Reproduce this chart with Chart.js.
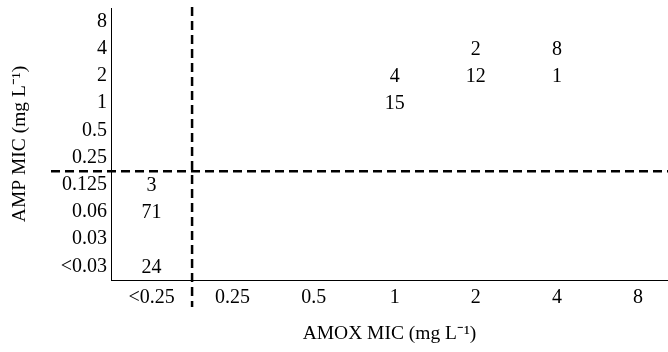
<!DOCTYPE html>
<html>
<head>
<meta charset="utf-8">
<script src="https://cdn.jsdelivr.net/npm/chart.js@4"></script>
<style>
  html, body { margin: 0; padding: 0; background: #fff; }
  #wrap { width: 668px; height: 352px; }
</style>
</head>
<body>
<div id="wrap"><canvas id="c"></canvas></div>
<script>
// tick labels
const amoxLabels = ['<0.25', '0.25', '0.5', '1', '2', '4', '8'];
const ampLabels = ['<0.03', '0.03', '0.06', '0.125', '0.25', '0.5', '1', '2', '4', '8'];

// isolate counts: AMOX MIC, AMP MIC, number of isolates
const amoxMic = ['<0.25', '<0.25', '<0.25', '1', '1', '2', '2', '4', '4'];
const ampMic = ['0.125', '0.06', '<0.03', '2', '1', '4', '2', '4', '2'];
const counts = [3, 71, 24, 4, 15, 2, 12, 8, 1];

// breakpoint lines (between categories)
const amoxBreak = 0.5;
const ampBreak = 3.5;

const serif = "'Liberation Serif', 'Times New Roman', serif";

const points = counts.map((n, i) => ({
  x: amoxLabels.indexOf(amoxMic[i]),
  y: ampLabels.indexOf(ampMic[i]),
  n
}));

const countLabels = {
  id: 'countLabels',
  afterDatasetsDraw(chart) {
    const ctx = chart.ctx;
    const meta = chart.getDatasetMeta(0);
    ctx.save();
    ctx.font = '20px ' + serif;
    ctx.fillStyle = '#000';
    ctx.textAlign = 'center';
    ctx.textBaseline = 'middle';
    meta.data.forEach((el, i) => {
      ctx.fillText(String(points[i].n), el.x, el.y + 1);
    });
    ctx.restore();
  }
};

const breakLines = {
  id: 'breakLines',
  afterDraw(chart) {
    const { ctx, scales: { x, y }, chartArea } = chart;
    const bx = x.getPixelForValue(amoxBreak);
    const by = y.getPixelForValue(ampBreak);
    ctx.save();
    ctx.strokeStyle = '#000';
    ctx.lineWidth = 2.5;
    ctx.setLineDash([9, 5]);
    ctx.beginPath();
    ctx.moveTo(bx, chartArea.top - 1);
    ctx.lineTo(bx, chartArea.bottom + 27);
    ctx.stroke();
    ctx.beginPath();
    ctx.moveTo(51, by);
    ctx.lineTo(chart.width, by);
    ctx.stroke();
    ctx.restore();
  }
};

new Chart(document.getElementById('c'), {
  type: 'scatter',
  data: {
    datasets: [{
      data: points,
      pointRadius: 0,
      pointHoverRadius: 0
    }]
  },
  options: {
    responsive: true,
    maintainAspectRatio: false,
    animation: false,
    layout: { padding: { top: 8, right: 0, left: 0, bottom: 0 } },
    plugins: { legend: { display: false }, tooltip: { enabled: false } },
    scales: {
      x: {
        type: 'linear',
        min: -0.5,
        max: 6.37,
        afterBuildTicks(scale) {
          scale.ticks = amoxLabels.map((_, i) => ({ value: i }));
        },
        afterFit(scale) {
          scale.height = 72;
          scale.paddingLeft = 0;
          scale.paddingRight = 0;
        },
        grid: { display: false, drawTicks: false },
        border: { display: true, color: '#000', width: 1 },
        ticks: {
          color: '#000',
          padding: 6,
          maxRotation: 0,
          autoSkip: false,
          font: { family: serif, size: 20 },
          callback: v => amoxLabels[v]
        },
        title: {
          display: true,
          text: 'AMOX MIC (mg L\u207B\u00B9)',
          color: '#000',
          font: { family: serif, size: 19.5 },
          padding: { top: 0, bottom: 6 }
        }
      },
      y: {
        type: 'linear',
        min: -0.5,
        max: 9.5,
        afterBuildTicks(scale) {
          scale.ticks = ampLabels.map((_, i) => ({ value: i }));
        },
        afterFit(scale) {
          scale.width = 111;
          scale.paddingTop = 0;
          scale.paddingBottom = 0;
        },
        grid: { display: false, drawTicks: false },
        border: { display: true, color: '#000', width: 1 },
        ticks: {
          color: '#000',
          padding: 4,
          autoSkip: false,
          font: { family: serif, size: 20 },
          callback: v => ampLabels[v]
        },
        title: {
          display: true,
          text: 'AMP MIC (mg L\u207B\u00B9)',
          color: '#000',
          font: { family: serif, size: 19.5 },
          padding: { top: 8, bottom: 0 }
        }
      }
    }
  },
  plugins: [countLabels, breakLines]
});
</script>
</body>
</html>
